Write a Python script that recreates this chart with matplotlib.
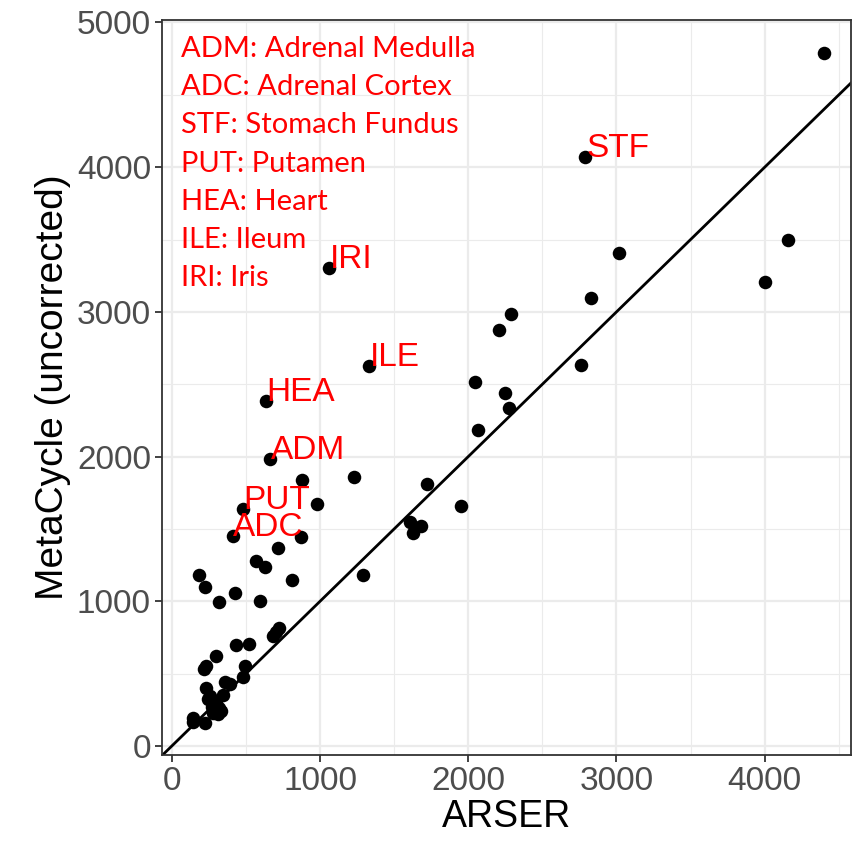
#!/usr/bin/env python3
"""ARSER vs MetaCycle (uncorrected) の散布図を再現"""

import matplotlib

matplotlib.use("Agg")
import matplotlib.pyplot as plt
import numpy as np

plt.rcParams["font.family"] = ["Liberation Sans", "DejaVu Sans"]

# データ
arser = [
    4400, 4160, 4000, 3020, 2825, 2790, 2290, 2210, 2760, 2045,
    2245, 2275, 2065, 1330, 1060, 1230, 880, 980, 875, 1725,
    1950, 1610, 1680, 1625, 635, 665, 480, 410, 715, 565,
    630, 185, 810, 1290, 225, 320, 425, 595, 720, 685,
    700, 435, 520, 300, 220, 495, 480, 360, 390, 230,
    345, 245, 300, 320, 270, 280, 310, 145, 140, 225,
    230, 260, 330,
]
metacycle = [
    4790, 3500, 3205, 3410, 3095, 4070, 2985, 2875, 2630, 2515,
    2440, 2335, 2185, 2625, 3300, 1860, 1835, 1670, 1445, 1810,
    1660, 1545, 1520, 1475, 2385, 1985, 1640, 1450, 1365, 1280,
    1235, 1185, 1145, 1180, 1100, 995, 1060, 1000, 815, 760,
    790, 700, 705, 620, 535, 555, 480, 445, 430, 400,
    355, 325, 295, 260, 270, 225, 220, 195, 165, 160,
    550, 345, 240,
]

# ラベル付きの組織
label_names = ["STF", "IRI", "ILE", "HEA", "ADM", "PUT", "ADC"]
label_x = [2790, 1060, 1330, 635, 665, 480, 410]
label_y = [4070, 3300, 2625, 2385, 1985, 1640, 1450]

legend_lines = [
    "ADM: Adrenal Medulla",
    "ADC: Adrenal Cortex",
    "STF: Stomach Fundus",
    "PUT: Putamen",
    "HEA: Heart",
    "ILE: Ileum",
    "IRI: Iris",
]

W, H = 858, 847
fig = plt.figure(figsize=(W / 100, H / 100), dpi=100)
ax = fig.add_axes([162 / W, 1 - 755 / H, (851 - 162) / W, (755 - 20) / H])

ax.set_xlim(-66, 4582)
ax.set_ylim(-62, 5017)

# グリッド（ggplot theme_bw 風）
ax.set_xticks([0, 1000, 2000, 3000, 4000])
ax.set_yticks([0, 1000, 2000, 3000, 4000, 5000])
ax.set_xticks([500, 1500, 2500, 3500, 4500], minor=True)
ax.set_yticks([500, 1500, 2500, 3500, 4500], minor=True)
ax.grid(True, which="major", color="#EBEBEB", linewidth=1.6)
ax.grid(True, which="minor", color="#EBEBEB", linewidth=0.8)
ax.set_axisbelow(True)
ax.tick_params(which="minor", length=0)
ax.tick_params(which="major", length=5, width=1.3, color="#333333",
               labelsize=24, labelcolor="#4D4D4D", pad=3)
for sp in ax.spines.values():
    sp.set_color("#333333")
    sp.set_linewidth(1.3)

# y = x 線
ax.axline((0, 0), slope=1, color="black", linewidth=2, zorder=2)

# 散布点
ax.scatter(arser, metacycle, s=95, color="black", linewidths=0, zorder=3)

# 組織ラベル
for name, x, y in zip(label_names, label_x, label_y):
    ax.text(x + 5, y, name, color="red", fontsize=24,
            ha="left", va="baseline", zorder=4)

ax.set_xlabel("ARSER", fontsize=27, labelpad=1)
ax.set_ylabel("MetaCycle (uncorrected)", fontsize=28, labelpad=4)

# 凡例テキスト（赤）
for i, line in enumerate(legend_lines):
    base = 57 + i * 38.2
    fig.text(181 / W, 1 - base / H, line, color="red", fontsize=21,
             family=["Lato", "DejaVu Sans"], ha="left", va="baseline")

fig.savefig("out.png", dpi=100)
plt.close(fig)
